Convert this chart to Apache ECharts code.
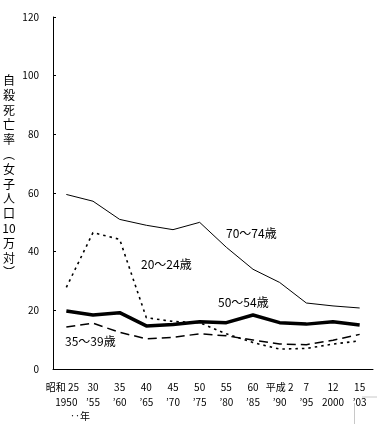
<!DOCTYPE html>
<html><head><meta charset="utf-8">
<script src="https://cdn.jsdelivr.net/npm/echarts@6/dist/echarts.min.js"></script>
<style>html,body{margin:0;padding:0;background:#fff}#c{width:377px;height:424px}</style>
</head><body><div id="c"></div>
<script>
const eraLabels = ['昭和 25','30','35','40','45','50','55','60','平成 2','7','12','15'];
const yearLabels = ['1950','’55','’60','’65','’70','’75','’80','’85','’90','’95','2000','’03'];
const age70_74 = [59.5,57.2,51.0,49.0,47.5,50.0,41.5,34.0,29.5,22.5,21.5,20.8];
const age20_24 = [27.8,46.5,44.2,17.5,16.2,15.8,12.0,9.0,6.8,7.0,8.5,9.6];
const age50_54 = [19.8,18.4,19.2,14.7,15.2,16.1,15.8,18.4,15.8,15.3,16.1,15.0];
const age35_39 = [14.3,15.6,12.5,10.3,10.8,12.0,11.3,9.9,8.5,8.3,9.8,11.8];
const yMin = 0, yMax = 120, yStep = 20;
const yTitle = ['自','殺','死','亡','率','︵','女','子','人','口','10','万','対','︶'];

const FONT = 'Noto Sans CJK JP';
const chart = echarts.init(document.getElementById('c'), null, {renderer:'canvas'});
const categories = eraLabels.map((e,i)=>e+'\n'+yearLabels[i]);
const mk = (name, data, lineStyle) => ({
  name, type:'line', data, symbol:'none', smooth:false, lineStyle: Object.assign({color:'#000'}, lineStyle), z: 3
});
chart.setOption({
  animation:false,
  backgroundColor:'#fff',
  grid:{left:53, right:4, top:17, bottom:55, containLabel:false},
  xAxis:{
    type:'category', data:categories, boundaryGap:true,
    axisLine:{lineStyle:{color:'#000', width:1}},
    axisTick:{inside:true, length:3, lineStyle:{color:'#000'}},
    axisLabel:{color:'#000', fontFamily:FONT, fontSize:10, lineHeight:15, margin:11, interval:0,
      formatter:(v,i)=> i===0 ? '{a|'+eraLabels[0]+'}\n'+yearLabels[0] : v,
      rich:{a:{fontFamily:FONT, fontSize:10, color:'#000', padding:[0,8,0,0]}}},
    splitLine:{show:false}
  },
  yAxis:{
    type:'value', min:yMin, max:yMax, interval:yStep,
    axisLine:{show:true, lineStyle:{color:'#000', width:1}},
    axisTick:{show:true, inside:true, length:3, lineStyle:{color:'#000'}},
    axisLabel:{color:'#000', fontFamily:FONT, fontSize:10, margin:14},
    splitLine:{show:false}
  },
  series:[
    mk('70～74歳', age70_74, {width:1, type:'solid'}),
    mk('20～24歳', age20_24, {width:1.6, type:[2.5,4]}),
    mk('50～54歳', age50_54, {width:3.5, type:'solid'}),
    mk('35～39歳', age35_39, {width:1.5, type:[9,5]})
  ],
  graphic:[
    {type:'text', x:9, y:73, style:{text:yTitle.join('\n'), font:'12px "'+FONT+'"', lineHeight:14.8, fill:'#000', align:'center', verticalAlign:'top'}},
    {type:'text', x:226, y:233, style:{text:'70～74歳', font:'12px "'+FONT+'"', fill:'#000', verticalAlign:'middle'}},
    {type:'text', x:141, y:264, style:{text:'20～24歳', font:'12px "'+FONT+'"', fill:'#000', verticalAlign:'middle'}},
    {type:'text', x:218, y:302, style:{text:'50～54歳', font:'12px "'+FONT+'"', fill:'#000', verticalAlign:'middle'}},
    {type:'text', x:65, y:341, style:{text:'35～39歳', font:'12px "'+FONT+'"', fill:'#000', verticalAlign:'middle'}},
    {type:'text', x:70, y:416, style:{text:'‥年', font:'10px "'+FONT+'"', fill:'#000', verticalAlign:'middle'}},
    {type:'polyline', shape:{points:[[362,397],[377,397]]}, style:{stroke:'#c8c8c8', lineWidth:1}},
    {type:'polyline', shape:{points:[[354.5,403],[354.5,424]]}, style:{stroke:'#c8c8c8', lineWidth:1}}
  ]
});
</script></body></html>
